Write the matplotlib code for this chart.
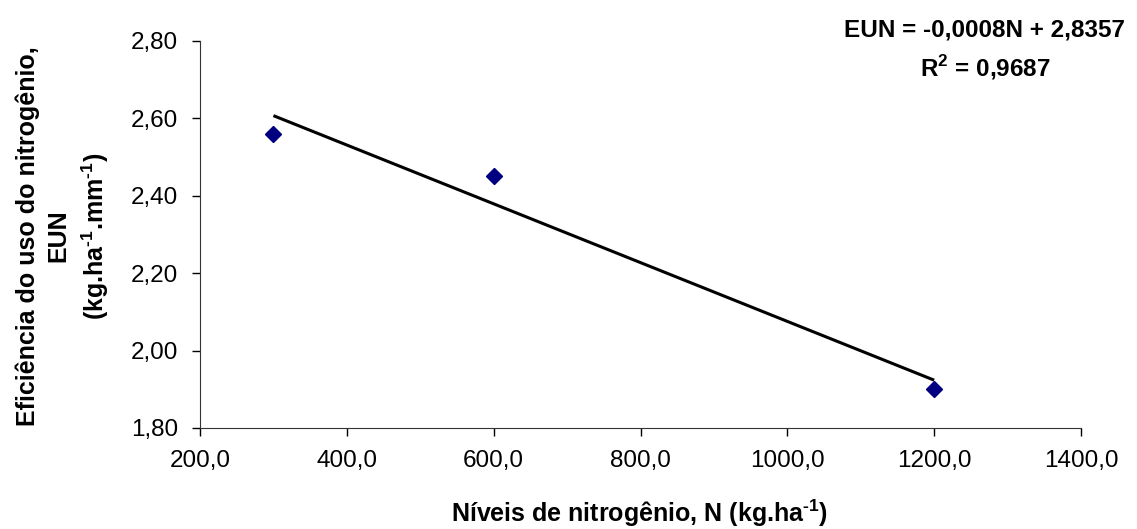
import numpy as np
import matplotlib
matplotlib.use('Agg')
import matplotlib.pyplot as plt
import matplotlib.ticker as mticker

# data
n_levels = [300, 600, 1200]        # N (kg/ha)
eun = [2.56, 2.45, 1.90]           # EUN (kg/ha/mm)
eq_text = 'EUN = -0,0008N + 2,8357'
r2_text = 'R$^{\\mathbf{2}}$ = 0,9687'

plt.rcParams['font.family'] = ['Liberation Sans', 'DejaVu Sans']
plt.rcParams['mathtext.fontset'] = 'custom'
plt.rcParams['mathtext.rm'] = 'Liberation Sans:bold'
plt.rcParams['mathtext.bf'] = 'Liberation Sans:bold'

sup = '$^{\\text{-}\\mathbf{1}}$'   # short hyphen like the original

fig = plt.figure(figsize=(11.37, 5.29), dpi=100)
ax = fig.add_axes([200 / 1137, 1 - 428 / 529, 881 / 1137, 387 / 529])

# linear trend line fitted through the points
coef = np.polyfit(n_levels, eun, 1)
xfit = np.array([min(n_levels), max(n_levels)])
ax.plot(xfit, np.polyval(coef, xfit), color='black', lw=2.2, solid_capstyle='butt', zorder=2)
ax.plot(n_levels, eun, linestyle='none', marker='D', ms=8.5, color='#000080', zorder=3)

ax.set_xlim(200, 1400)
ax.set_ylim(1.80, 2.80)
ax.set_xticks(np.arange(200, 1401, 200))
ax.set_yticks(np.arange(1.8, 2.81, 0.2))
ax.xaxis.set_major_formatter(mticker.FuncFormatter(lambda v, p: f'{v:.1f}'.replace('.', ',')))
ax.yaxis.set_major_formatter(mticker.FuncFormatter(lambda v, p: f'{v:.2f}'.replace('.', ',')))
ax.tick_params(direction='out', length=6, width=1, labelsize=17.5)
ax.tick_params(axis='y', pad=10)
ax.tick_params(axis='x', pad=10)
ax.spines['top'].set_visible(False)
ax.spines['right'].set_visible(False)
ax.spines['left'].set_color('#333333')
ax.spines['bottom'].set_color('#333333')

fig.text(640 / 1137, 1 - 513 / 529, 'Níveis de nitrogênio, N (kg.ha' + sup + ')',
         ha='center', va='center', fontsize=18, fontweight='bold')
fig.text(63 / 1137, 1 - 236 / 529,
         'Eficiência do uso do nitrogênio,\nEUN\n(kg.ha' + sup + '.mm' + sup + ')',
         ha='center', va='center', rotation=90, multialignment='center',
         fontsize=18, fontweight='bold', linespacing=1.35)

fig.text(985 / 1137, 1 - 30 / 529, eq_text, ha='center', va='center', fontsize=17.5, fontweight='bold')
fig.text(985 / 1137, 1 - 68 / 529, r2_text, ha='center', va='center', fontsize=17.5, fontweight='bold')

fig.savefig('out.png', dpi=100)
